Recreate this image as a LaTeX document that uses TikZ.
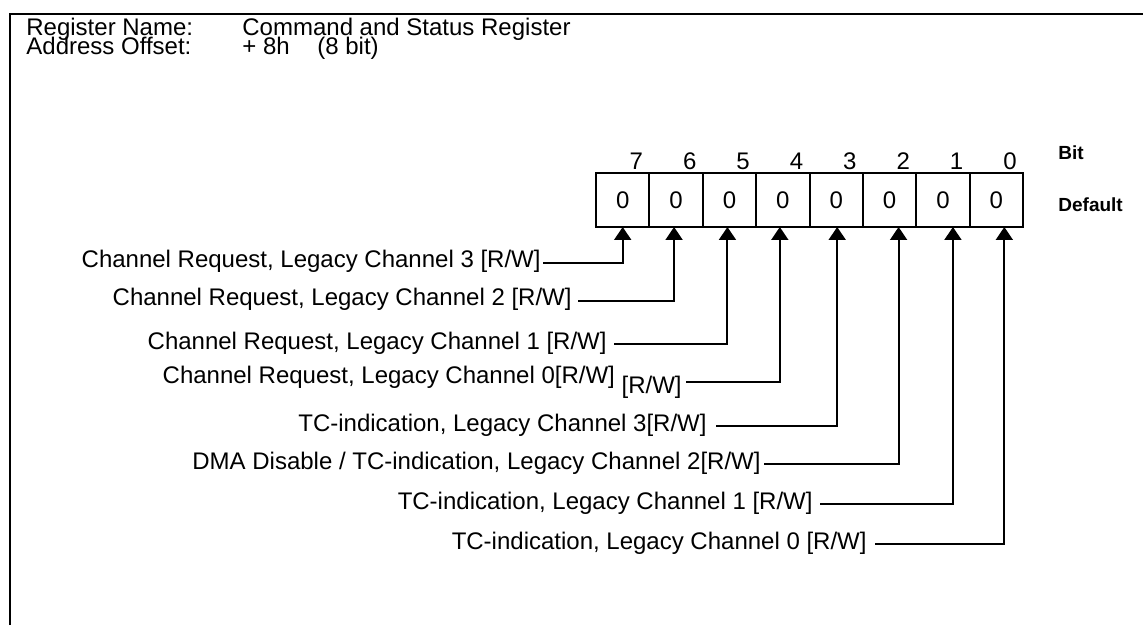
\documentclass[tikz,border=0pt]{standalone}
\usepackage{fontspec}
\setmainfont{Liberation Sans}
\usetikzlibrary{arrows.meta,calc}

\tikzset{
  regtxt/.style={font=\fontsize{12}{14}\selectfont, inner sep=0pt},
  reghead/.style={font={\fontsize{12}{9.5}\selectfont\lineskiplimit=-\maxdimen},
    inner sep=0pt, align=left, anchor=north west},
  regbold/.style={font=\fontsize{9.5}{11}\selectfont\bfseries, inner sep=0pt, anchor=base west},
  bitcell/.style={draw, line width=1pt, minimum width=26.69pt, minimum height=27pt,
    inner sep=0pt, outer sep=0pt, font=\fontsize{12}{14}\selectfont},
  bitarrow/.style={line width=1pt, -{Triangle[width=8.5pt,length=6.5pt]}},
}

\begin{document}
\begin{tikzpicture}[x=0.5pt, y=-0.5pt]
  \useasboundingbox (0,0) rectangle (1143,625);

  % frame (top and left only)
  \draw[line width=1pt] (10,625) -- (10,14) -- (1143,14);

  % header
  \node[reghead] (hdrkeys) at (26,18) {Register Name:\\Address Offset:};
  \node[reghead] (hdrvals) at (242,17.6) {Command and Status Register\\\makebox[37.5pt][l]{+ 8h}(8 bit)};

  % register cells, bit 7 on the left
  \foreach \b in {7,...,0} {
    \node[bitcell] (c\b) at ({596+53.375*(7-\b)+26.69}, 200) {0};
    \node[regtxt, anchor=base] (n\b) at ($(c\b.north east)+(-13,-3)$) {\b};
  }
  \node[regbold] (bitlbl) at (1058,160) {Bit};
  \node[regbold] (deflbl) at (1058,212) {Default};

  % field descriptions
  \node[regtxt, anchor=base east] (l7) at (541,268) {Channel Request, Legacy Channel 3 [R/W]};
  \node[regtxt, anchor=base east] (l6) at (572,306) {Channel Request, Legacy Channel 2 [R/W]};
  \node[regtxt, anchor=base east] (l5) at (607,349) {Channel Request, Legacy Channel 1 [R/W]};
  \node[regtxt, anchor=base east] (l4) at (682,383) {Channel Request, Legacy Channel 0[R/W] \raisebox{-5pt}{[R/W]}};
  \node[regtxt, anchor=base east] (l3) at (707,431) {TC-indication, Legacy Channel 3[R/W]};
  \node[regtxt, anchor=base east] (l2) at (761,469) {DMA Disable / TC-indication, Legacy Channel 2[R/W]};
  \node[regtxt, anchor=base east] (l1) at (813,509) {TC-indication, Legacy Channel 1 [R/W]};
  \node[regtxt, anchor=base east] (l0) at (867,549) {TC-indication, Legacy Channel 0 [R/W]};

  % connectors to the bits
  \draw[bitarrow] ($(l7.base east)+(2,-5)$) -| ($(c7.south)+(0,0)$);
  \draw[bitarrow] ($(l6.base east)+(6,-5)$) -| ($(c6.south)+(-2,0)$);
  \draw[bitarrow] ($(l5.base east)+(7,-5)$) -| ($(c5.south)+(-2,0)$);
  \draw[bitarrow] ($(l4.base east)+(4,-1)$) -| ($(c4.south)+(-3,0)$);
  \draw[bitarrow] ($(l3.base east)+(9,-5)$) -| ($(c3.south)+(1,0)$);
  \draw[bitarrow] ($(l2.base east)+(3,-5)$) -| ($(c2.south)+(9,0)$);
  \draw[bitarrow] ($(l1.base east)+(7,-5)$) -| ($(c1.south)+(10,0)$);
  \draw[bitarrow] ($(l0.base east)+(8,-5)$) -| ($(c0.south)+(8,0)$);
\end{tikzpicture}
\end{document}
